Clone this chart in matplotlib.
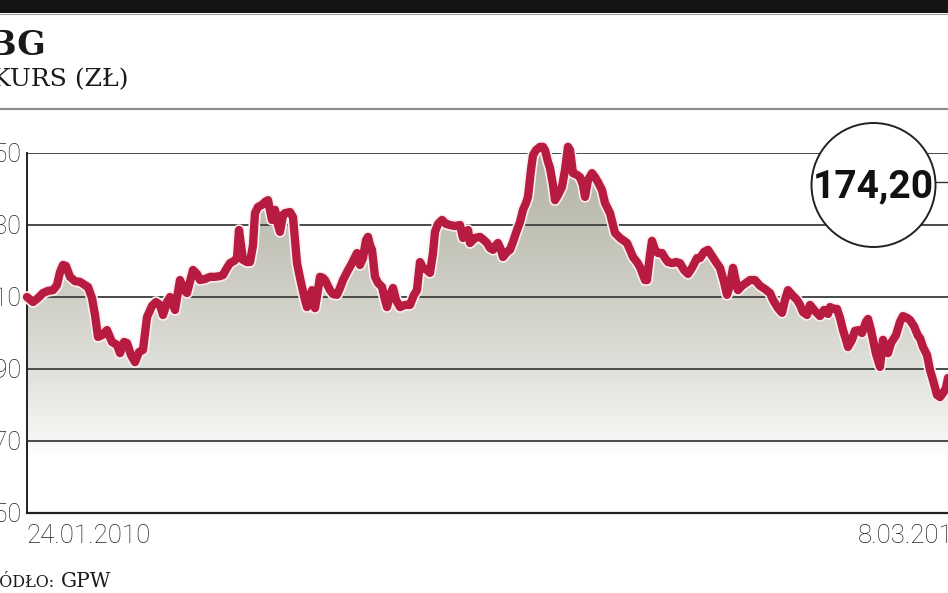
import numpy as np
import matplotlib
matplotlib.use("Agg")
import matplotlib.pyplot as plt
from matplotlib.patches import Rectangle, Ellipse, Polygon
from matplotlib.lines import Line2D
import matplotlib.patheffects as pe

# ---------------- data ----------------
title = "PBG"
subtitle = "KURS (ZŁ)"
source_label = "ŹRÓDŁO:"
source_name = "GPW"
last_value_label = "174,20"
date_labels = ["24.01.2010", "8.03.2011"]
y_ticks = [150, 170, 190, 210, 230, 250]

# time position along the session axis (0 = 24.01.2010, 941 = 8.03.2011)
t = [0, 6, 11, 16, 21, 26, 30, 33, 36, 39, 43, 48, 53, 58, 61, 65, 68, 71, 75, 80,
     85, 90, 93, 97, 100, 104, 108, 112, 116, 120, 125, 129, 133, 136, 140, 143, 148, 153, 157, 160,
     166, 170, 173, 178, 183, 188, 193, 196, 200, 203, 207, 210, 212, 214, 216, 220, 223, 226, 228, 231,
     235, 238, 241, 245, 248, 251, 253, 256, 258, 263, 266, 268, 270, 273, 275, 278, 280, 283, 285, 288,
     291, 293, 296, 298, 303, 306, 310, 313, 316, 320, 325, 328, 330, 333, 336, 339, 341, 343, 345, 348,
     351, 355, 358, 360, 363, 366, 369, 373, 378, 383, 387, 390, 393, 396, 400, 403, 406, 408, 411, 415,
     419, 423, 428, 433, 436, 439, 441, 443, 448, 453, 457, 460, 463, 466, 469, 471, 474, 476, 480, 483,
     486, 490, 493, 496, 499, 501, 504, 506, 509, 513, 516, 518, 521, 523, 526, 528, 531, 535, 538, 541,
     543, 546, 550, 553, 556, 558, 561, 565, 568, 571, 575, 578, 583, 586, 588, 593, 596, 600, 603, 606,
     610, 613, 618, 620, 623, 625, 628, 631, 635, 638, 641, 645, 649, 653, 657, 661, 665, 670, 673, 677,
     681, 685, 689, 693, 697, 700, 703, 706, 709, 711, 715, 719, 723, 728, 733, 738, 743, 746, 751, 755,
     758, 761, 765, 770, 773, 776, 780, 783, 788, 793, 797, 801, 803, 807, 810, 813, 816, 819, 821, 825,
     828, 832, 835, 839, 841, 844, 846, 849, 853, 856, 859, 861, 864, 866, 869, 873, 876, 880, 883, 887,
     891, 893, 896, 900, 903, 906, 910, 913, 916, 919, 921, 931, 941]

price = [210.0, 208.6, 209.7, 211.1, 211.7, 211.9, 213.3, 216.9, 218.9, 218.6, 215.6, 214.4, 214.2, 213.3, 212.8, 209.7, 205.0, 198.9, 199.4, 200.8,
         197.5, 196.7, 194.4, 197.5, 197.2, 193.9, 191.9, 194.7, 195.3, 204.4, 207.5, 208.6, 207.8, 205.0, 208.6, 210.0, 206.4, 214.7, 211.9, 211.1,
         217.5, 216.4, 214.7, 215.0, 215.6, 215.6, 215.8, 216.1, 218.1, 219.4, 220.0, 220.8, 228.6, 224.4, 220.3, 219.7, 219.7, 224.4, 233.3, 235.0,
         235.6, 236.4, 236.9, 231.4, 234.2, 230.0, 228.1, 232.8, 233.3, 233.6, 232.2, 225.8, 219.4, 215.3, 212.8, 209.2, 207.2, 209.7, 211.9, 206.9,
         211.9, 215.6, 215.3, 214.7, 211.9, 210.8, 210.6, 212.5, 214.7, 216.9, 219.4, 221.1, 222.2, 218.9, 220.8, 225.8, 226.7, 224.4, 223.1, 215.6,
         213.9, 212.8, 209.2, 207.2, 210.6, 212.5, 209.2, 207.2, 207.8, 207.8, 210.6, 211.9, 219.7, 218.1, 217.5, 216.7, 222.2, 228.1, 230.3, 231.4,
         230.3, 230.0, 229.7, 230.0, 226.4, 227.8, 228.6, 225.0, 226.4, 226.7, 225.8, 225.0, 223.6, 223.1, 224.4, 225.0, 223.1, 221.1, 222.5, 223.1,
         225.3, 228.6, 230.8, 234.2, 236.1, 237.8, 245.3, 249.4, 250.8, 251.7, 251.7, 250.8, 247.5, 245.8, 241.1, 236.9, 238.3, 240.6, 245.3, 251.7,
         250.8, 244.4, 243.9, 243.3, 241.1, 237.8, 242.5, 244.4, 243.3, 241.9, 239.7, 236.1, 233.3, 230.0, 227.8, 226.4, 225.8, 225.0, 223.1, 221.1,
         219.7, 218.3, 214.7, 214.7, 221.7, 225.6, 223.1, 222.2, 222.2, 220.8, 219.7, 219.4, 219.7, 219.4, 217.5, 216.4, 218.1, 220.8, 220.8, 222.5,
         223.1, 221.4, 219.7, 218.1, 214.2, 210.6, 213.3, 218.1, 214.2, 211.9, 213.1, 213.9, 214.7, 214.7, 213.1, 212.2, 211.1, 209.2, 206.9, 205.6,
         209.2, 211.9, 210.6, 209.2, 207.8, 205.8, 205.0, 207.8, 206.1, 204.7, 206.4, 205.3, 207.2, 206.7, 206.7, 204.2, 200.8, 198.1, 196.1, 198.1,
         200.6, 200.8, 200.0, 203.1, 203.9, 200.8, 198.1, 194.2, 190.6, 198.1, 194.7, 194.4, 197.2, 198.1, 199.4, 203.1, 204.7, 204.2, 203.6, 201.9,
         199.2, 198.6, 196.1, 193.9, 189.7, 186.9, 182.8, 182.2, 183.3, 184.7, 187.5, 180.0, 174.2]

assert len(t) == len(price), (len(t), len(price))

# ---------------- figure ----------------
W, H = 948, 593
fig = plt.figure(figsize=(W / 100, H / 100), dpi=100)
fig.patch.set_facecolor("white")

def fx(px):
    return px / W

def fy(py):
    return (H - py) / H

# header elements
fig.add_artist(Rectangle((0, fy(12.5)), 1, 12.5 / H, transform=fig.transFigure,
                         facecolor="#141414", edgecolor="none"))
fig.add_artist(Line2D([0, 1], [fy(14), fy(14)], transform=fig.transFigure,
                      color="#9a9a9a", lw=0.8))
fig.add_artist(Line2D([0, 1], [fy(109), fy(109)], transform=fig.transFigure,
                      color="#8c8c8c", lw=1.6))
fig.text(fx(46), fy(55), title, ha="right", va="baseline",
         fontfamily="DejaVu Serif", fontweight="bold", fontsize=24, color="#1a1a1a")
fig.text(fx(129), fy(86), subtitle, ha="right", va="baseline",
         fontfamily="DejaVu Serif", fontsize=18, color="#1a1a1a")

# axes (extends past the right edge, like the cropped original)
left_px, right_px = 27, 968
top_px, bot_px = 153, 513
ax = fig.add_axes([fx(left_px), fy(bot_px), (right_px - left_px) / W, (bot_px - top_px) / H])
ax.set_facecolor("none")
ax.set_xlim(t[0], t[-1])
ax.set_ylim(y_ticks[0], y_ticks[-1])

tt = np.array(t, dtype=float)
pp = np.array(price, dtype=float)

# gradient fill under the line
verts = np.column_stack([np.r_[tt[0], tt, tt[-1]], np.r_[y_ticks[0], pp, y_ticks[0]]])
poly = Polygon(verts, closed=True, facecolor="none", edgecolor="none", transform=ax.transData)
ax.add_patch(poly)
vals = np.linspace(y_ticks[0], 255, 300)[:, None]
f = np.clip((vals - 166) / (250 - 166), 0, 1) ** 0.75
top_col = np.array([178, 178, 164]) / 255.0
img = np.ones((300, 1, 3)) * (1 - f[..., None]) + top_col * f[..., None]
im = ax.imshow(img, extent=[tt[0], tt[-1], y_ticks[0], 255], origin="lower",
               aspect="auto", zorder=1, interpolation="bilinear")
im.set_clip_path(poly)
ax.set_ylim(y_ticks[0], y_ticks[-1])

# grid lines
for v in y_ticks[1:]:
    ax.axhline(v, color="#4a4a4a", lw=1.4, zorder=2)

# price line
ax.plot(tt, pp, color="#b71c40", lw=6.0, solid_joinstyle="round", solid_capstyle="round",
        zorder=4, clip_on=False,
        path_effects=[pe.Stroke(linewidth=8.4, foreground="#fbeef0"), pe.Normal()])

# spines and ticks
for s in ["top", "right"]:
    ax.spines[s].set_visible(False)
ax.spines["left"].set_color("#222222")
ax.spines["left"].set_linewidth(1.4)
ax.spines["bottom"].set_color("#222222")
ax.spines["bottom"].set_linewidth(1.6)
ax.set_yticks(y_ticks)
ax.set_yticklabels([str(v) for v in y_ticks])
ax.tick_params(axis="y", length=0, pad=4.0, labelsize=18, labelcolor="#222222")
for lab in ax.get_yticklabels():
    lab.set_fontfamily("Roboto")
    lab.set_fontweight("light")
ax.set_xticks([t[0], t[-1]])
ax.set_xticklabels(date_labels)
ax.tick_params(axis="x", length=0, pad=8, labelsize=18.5, labelcolor="#222222")
xl = ax.get_xticklabels()
xl[0].set_ha("left")
xl[1].set_ha("right")
for lab in xl:
    lab.set_fontfamily("Roboto")
    lab.set_fontweight("light")

# last value badge
cx, cy, r = 873.5, 185, 62
fig.add_artist(Line2D([fx(cx + r), 1], [fy(182), fy(182)], transform=fig.transFigure,
                      color="#333333", lw=1.0, zorder=5))
fig.add_artist(Ellipse((fx(cx), fy(cy)), 2 * r / W, 2 * r / H, transform=fig.transFigure,
                       facecolor="white", edgecolor="#222222", lw=1.4, zorder=6))
fig.text(fx(cx), fy(cy + 2), last_value_label, ha="center", va="center",
         fontfamily="Roboto", fontweight="bold", fontsize=28, color="#111111", zorder=7)

# source
fig.text(fx(54), fy(587), source_label, ha="right", va="baseline",
         fontfamily="DejaVu Serif", fontsize=11.5, color="#1a1a1a")
fig.text(fx(61), fy(587), source_name, ha="left", va="baseline",
         fontfamily="DejaVu Serif", fontsize=14.5, color="#1a1a1a")

fig.savefig("out.png", dpi=100)
